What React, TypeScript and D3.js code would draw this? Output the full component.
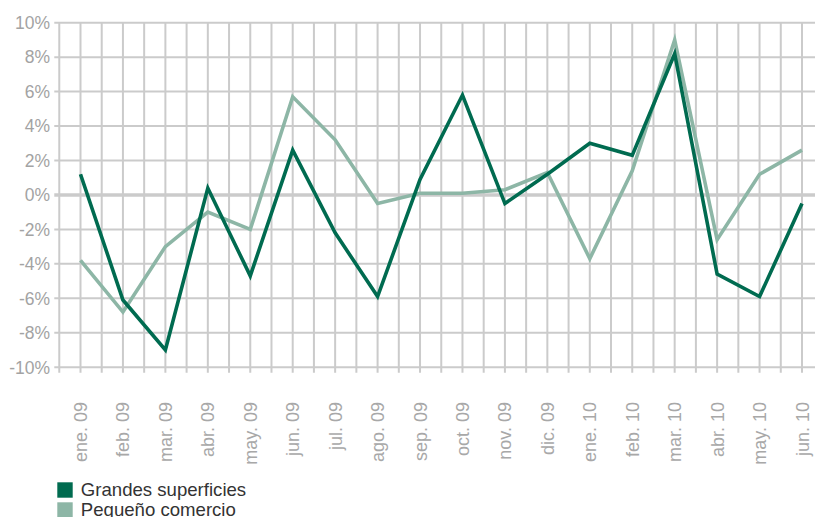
import React from "react";
import * as d3 from "d3";

const months = [
  "ene. 09", "feb. 09", "mar. 09", "abr. 09", "may. 09", "jun. 09",
  "jul. 09", "ago. 09", "sep. 09", "oct. 09", "nov. 09", "dic. 09",
  "ene. 10", "feb. 10", "mar. 10", "abr. 10", "may. 10", "jun. 10",
];
const grandes = [1.2, -6.1, -9.0, 0.4, -4.7, 2.6, -2.2, -5.9, 0.9, 5.8, -0.5, 1.2, 3.0, 2.3, 8.2, -4.6, -5.9, -0.5];
const pequeno = [-3.8, -6.8, -3.0, -1.0, -2.0, 5.7, 3.2, -0.5, 0.1, 0.1, 0.3, 1.3, -3.7, 1.4, 9.0, -2.6, 1.2, 2.6];
const yTicks = [10, 8, 6, 4, 2, 0, -2, -4, -6, -8, -10];
const seriesNames = ["Grandes superficies", "Pequeño comercio"];
const colors = ["#006b50", "#8db6a6"];

const W = 815;
const H = 517;

export default function App() {
  const x = d3.scalePoint<string>().domain(months).range([80.5, 802]);
  const step = x.step();
  const y = d3.scaleLinear().domain([-10, 10]).range([367.2, 22.7]);
  const left = x(months[0])! - step / 2;
  const right = x(months[months.length - 1])! + step / 2;
  const gridX: number[] = [];
  months.forEach((m) => {
    gridX.push(x(m)! - step / 2);
    gridX.push(x(m)!);
  });
  gridX.push(right);

  const line = d3
    .line<number>()
    .x((_, i) => x(months[i])!)
    .y((d) => y(d));

  const gridColor = "#cbcbcb";
  const font = "Liberation Sans, Arial, sans-serif";

  return (
    <svg
      width={W}
      height={H}
      style={{ position: "absolute", left: 0, top: 0, background: "#fff" }}
      fontFamily={font}
    >
      {gridX.map((gx, i) => (
        <line key={"vx" + i} x1={gx} x2={gx} y1={y(10)} y2={y(-10) + 5.5} stroke={gridColor} strokeWidth={2} />
      ))}
      {yTicks.map((t) => (
        <line
          key={"hy" + t}
          x1={left - 5}
          x2={right}
          y1={y(t)}
          y2={y(t)}
          stroke={gridColor}
          strokeWidth={t === 0 ? 3.5 : 2}
        />
      ))}
      {yTicks.map((t) => (
        <text
          key={"ty" + t}
          x={50}
          y={y(t)}
          dy="0.36em"
          textAnchor="end"
          fontSize={17.5}
          fill="#a3a3a3"
        >
          {t + "%"}
        </text>
      ))}
      {months.map((m) => (
        <text
          key={"tx" + m}
          transform={`translate(${x(m)! + 6.5},402) rotate(-90)`}
          textAnchor="end"
          fontSize={18}
          fill="#a8a8a8"
        >
          {m}
        </text>
      ))}
      <path d={line(pequeno)!} fill="none" stroke={colors[1]} strokeWidth={3.6} strokeLinejoin="miter" />
      <path d={line(grandes)!} fill="none" stroke={colors[0]} strokeWidth={3.6} strokeLinejoin="miter" />
      {seriesNames.map((n, i) => (
        <g key={n} transform={`translate(57.3,${482.3 + i * 20})`}>
          <rect width={15.4} height={15.4} fill={colors[i]} />
          <text x={23.5} y={13.5} fontSize={18.6} fill="#333">
            {n}
          </text>
        </g>
      ))}
    </svg>
  );
}
